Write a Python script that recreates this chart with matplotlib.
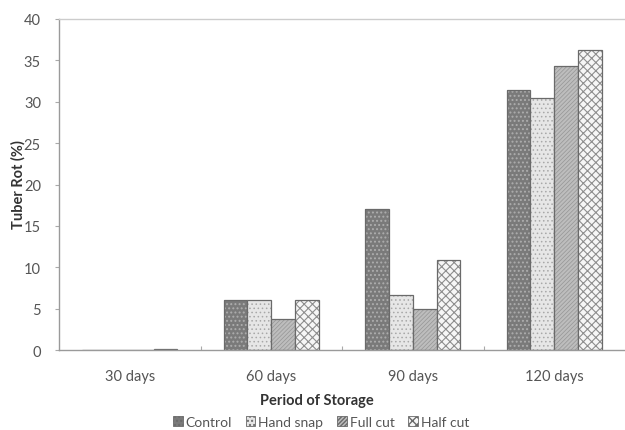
import numpy as np
import matplotlib
matplotlib.use("Agg")
import matplotlib.pyplot as plt
from matplotlib.patches import Patch

plt.rcParams['font.family'] = ['Lato', 'DejaVu Sans']

periods = ["30 days", "60 days", "90 days", "120 days"]
treatments = ["Control", "Hand snap", "Full cut", "Half cut"]

control   = [0.0, 6.0, 17.0, 31.4]
hand_snap = [0.0, 6.1, 6.7, 30.5]
full_cut  = [0.0, 3.8, 4.9, 34.3]
half_cut  = [0.15, 6.1, 10.9, 36.2]

series = [control, hand_snap, full_cut, half_cut]

# face colour, hatch, hatch colour, hatch line width
styles = [
    ("#7a7a7a", "....", "#adadad", 0.9),
    ("#e6e6e6", "....", "#a8a8a8", 0.6),
    ("#bdbdbd", "////////", "#959595", 0.5),
    ("#f6f6f6", "xxxx", "#8e8e8e", 0.8),
]
edge = "#6a6a6a"
text_col = "#555555"

fig = plt.figure(figsize=(6.25, 4.31), dpi=100)
ax = fig.add_axes([0.0944, 0.1856, 0.9056, 0.768])

x = np.arange(len(periods))
bw = 0.168
for i, vals in enumerate(series):
    face, hatch, hcol, hlw = styles[i]
    pos = x + (i - 1.5) * bw
    with plt.rc_context({'hatch.linewidth': hlw}):
        ax.bar(pos, vals, bw, color=face, hatch=hatch, edgecolor=hcol, linewidth=0)
    ax.bar(pos, vals, bw, fill=False, edgecolor=edge, linewidth=0.9)

ax.set_xlim(-0.5, 3.5)
ax.set_ylim(0, 40)
ax.set_yticks(np.arange(0, 41, 5))
ax.tick_params(axis='y', colors="#aaaaaa", labelcolor=text_col, labelsize=10.5,
               length=3, direction='out', pad=10)

# category labels on minor ticks, separators as major ticks
ax.set_xticks([0.5, 1.5, 2.5])
ax.set_xticklabels([])
ax.tick_params(axis='x', which='major', direction='in', length=3, colors="#aaaaaa")
ax.set_xticks(x, minor=True)
ax.set_xticklabels(periods, minor=True)
ax.tick_params(axis='x', which='minor', length=0, labelcolor=text_col,
               labelsize=10.5, pad=14)

for s in ["left", "bottom", "top"]:
    ax.spines[s].set_color("#9a9a9a")
    ax.spines[s].set_linewidth(1.0)
ax.spines["top"].set_color("#cccccc")
ax.spines["right"].set_visible(False)

fig.text(18 / 625, 1 - 185 / 431, "Tuber Rot (%)", rotation=90, ha='center',
         va='center', fontsize=10.5, fontweight='bold', color="#333333")
fig.text(317 / 625, 1 - 401 / 431, "Period of Storage", ha='center', va='center',
         fontsize=10.5, fontweight='bold', color="#333333")

handles = []
for i in range(4):
    with plt.rc_context({'hatch.linewidth': styles[i][3]}):
        handles.append(Patch(facecolor=styles[i][0], hatch=styles[i][1],
                             edgecolor=edge, linewidth=0.6, label=treatments[i]))
fig.legend(handles=handles, loc='center', bbox_to_anchor=(321 / 625, 1 - 423 / 431),
           ncol=4, frameon=False, fontsize=10, handlelength=0.7, handleheight=0.7,
           handletextpad=0.2, columnspacing=1.0, labelcolor=text_col)

fig.savefig("out.png", dpi=100)
